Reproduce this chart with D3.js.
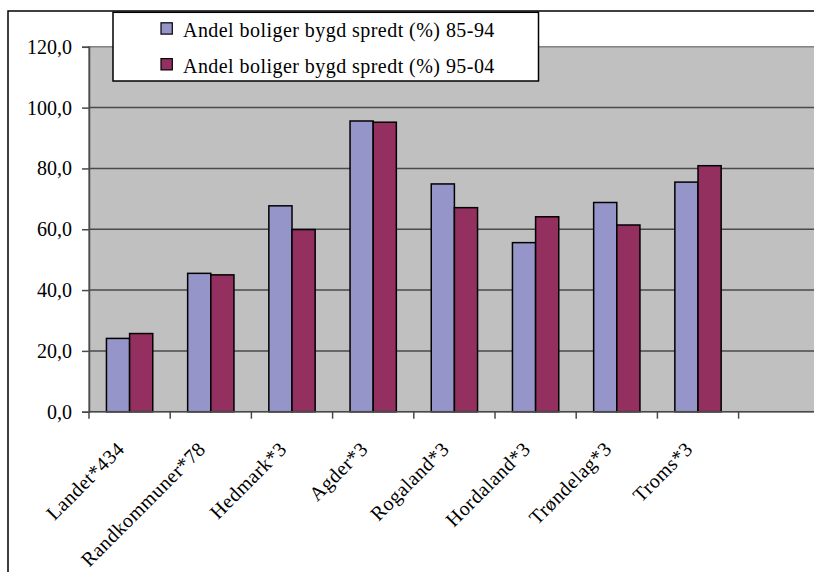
<!DOCTYPE html>
<html><head><meta charset="utf-8">
<script src="https://cdn.jsdelivr.net/npm/d3@7"></script>
<style>
html,body{margin:0;padding:0;background:#fff;}
svg{display:block;}
svg text{font-family:'Liberation Serif', 'Times New Roman', Times, serif !important;}
</style></head>
<body><svg id="c" width="814" height="572"></svg>
<script>
const categories = ["Landet*434","Randkommuner*78","Hedmark*3","Agder*3","Rogaland*3","Hordaland*3","Trøndelag*3","Troms*3"];
const seriesNames = ["Andel boliger bygd spredt (%) 85-94","Andel boliger bygd spredt (%) 95-04"];
const values8594 = [24.1, 45.5, 67.7, 95.6, 74.9, 55.6, 68.8, 75.5];
const values9504 = [25.7, 45.0, 59.9, 95.2, 67.1, 64.1, 61.4, 80.9];
const yTicks = [0,20,40,60,80,100,120];
const colors = ["#9595C9","#94305F"];
const FONT = "'Liberation Serif', 'Times New Roman', Times, serif";

const svg = d3.select("#c");
// outer chart border
svg.append("rect").attr("x",8).attr("y",11).attr("width",900).attr("height",700)
  .attr("fill","#fff").attr("stroke","#000").attr("stroke-width",1.5);

const pLeft = 89, pTop = 46.8, pBottom = 411.7, pRight = 89 + 9*81.2;
const y = d3.scaleLinear().domain([0,120]).range([pBottom, pTop]);
const x = d3.scaleBand().domain([...categories, "__empty"]).range([pLeft, pRight]).paddingInner(0).paddingOuter(0);
const x1 = d3.scaleBand().domain([0,1]).range([0, x.bandwidth()]).paddingInner(0).paddingOuter(0.754);

// plot area
svg.append("rect").attr("x",pLeft).attr("y",pTop).attr("width",pRight-pLeft).attr("height",pBottom-pTop)
  .attr("fill","#C0C0C0").attr("stroke","#808080").attr("stroke-width",1.5);

// gridlines
svg.append("g").selectAll("line").data(yTicks.filter(t=>t>0 && t<120)).join("line")
  .attr("x1",pLeft).attr("x2",pRight).attr("y1",d=>y(d)).attr("y2",d=>y(d))
  .attr("stroke","#4a4a4a").attr("stroke-width",1.5);

// bars
const data = categories.map((c,i)=>({c, v:[values8594[i], values9504[i]]}));
const g = svg.append("g");
data.forEach(d=>{
  d.v.forEach((v,k)=>{
    g.append("rect").attr("x", x(d.c)+x1(k)).attr("y", y(v))
      .attr("width", x1.bandwidth()).attr("height", y(0)-y(v))
      .attr("fill", colors[k]).attr("stroke","#000").attr("stroke-width",1.5);
  });
});

// y axis
const yAxis = d3.axisLeft(y).tickValues(yTicks).tickSize(7).tickPadding(10)
  .tickFormat(d=>d3.format(".1f")(d).replace(".",","));
const ya = svg.append("g").attr("transform",`translate(${pLeft},0)`).call(yAxis)
  .attr("font-family", FONT);
ya.select(".domain").attr("stroke","#4a4a4a").attr("stroke-width",1.5);
ya.selectAll(".tick line").attr("stroke","#4a4a4a").attr("stroke-width",1.5);
ya.selectAll(".tick text").attr("fill","#000").style("font-family",FONT).style("font-size","20px");

// x axis
const xTickPos = x.domain().map(d=>x(d)).concat([pRight]);
const xa = svg.append("g");
xa.append("line").attr("x1",pLeft).attr("x2",pRight).attr("y1",pBottom).attr("y2",pBottom)
  .attr("stroke","#4a4a4a").attr("stroke-width",1.5);
xa.selectAll("line.t").data(xTickPos).join("line").attr("class","t")
  .attr("x1",d=>d).attr("x2",d=>d).attr("y1",pBottom).attr("y2",pBottom+7)
  .attr("stroke","#4a4a4a").attr("stroke-width",1.5);
xa.selectAll("text").data(categories).join("text")
  .attr("transform",d=>`translate(${x(d)+x.bandwidth()/2-4},${pBottom+38.5}) rotate(-45)`)
  .attr("text-anchor","end").style("font-family",FONT).style("font-size","20px")
  .style("letter-spacing","0.5px").attr("fill","#000").text(d=>d);

// legend
const lg = svg.append("g");
lg.append("rect").attr("x",113).attr("y",12.3).attr("width",425.5).attr("height",68.7)
  .attr("fill","#fff").attr("stroke","#000").attr("stroke-width",1.5);
seriesNames.forEach((s,i)=>{
  const cy = 28.4 + i*35.8;
  lg.append("rect").attr("x",161).attr("y",cy-5.6).attr("width",11.3).attr("height",11.3)
    .attr("fill",colors[i]).attr("stroke","#000").attr("stroke-width",1.2);
  lg.append("text").attr("x",183).attr("y",cy+9).style("font-family",FONT).style("font-size","20px")
    .style("letter-spacing","0.45px").attr("fill","#000").text(s);
});
</script></body></html>
